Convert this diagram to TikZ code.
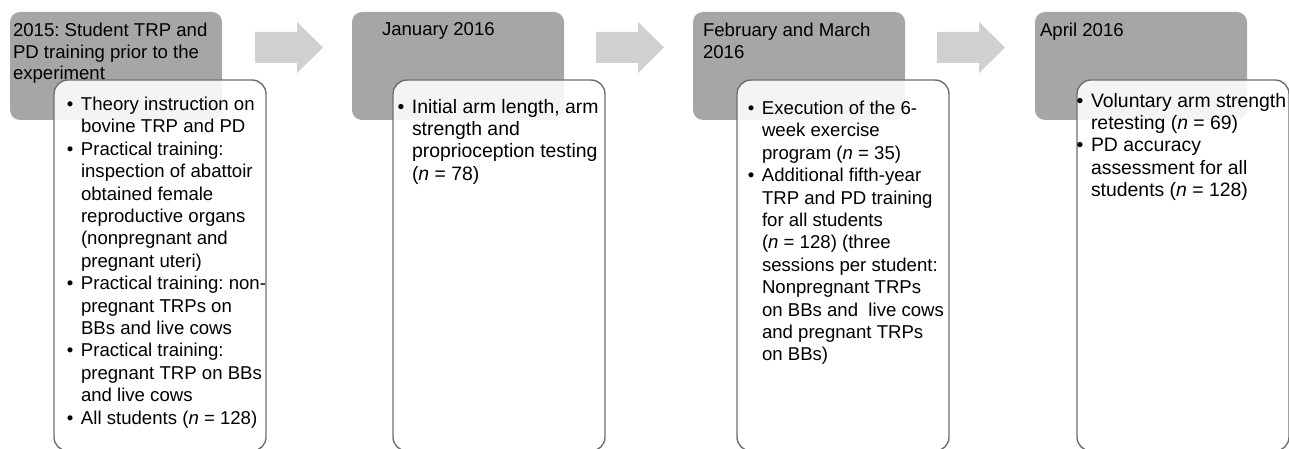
\documentclass[tikz,border=0pt]{standalone}
\usepackage{fontspec}
\setmainfont{Liberation Sans}
\usetikzlibrary{positioning}
\frenchspacing

\definecolor{headgray}{RGB}{166,166,166}
\definecolor{arrowgray}{RGB}{208,208,208}
\definecolor{boxline}{RGB}{110,110,110}
\newcommand{\itemdot}{\llap{\textbullet\hspace{3.8pt}}}

\begin{document}
\begin{tikzpicture}[x=0.5pt, y=-0.5pt,
    every node/.style={inner sep=0pt, outer sep=0pt, font=\fontsize{9.7}{11.2}\selectfont},
    headbox/.style={rectangle, rounded corners=5pt, fill=headgray, minimum width=106pt, minimum height=54pt, anchor=north west},
    listbox/.style={rectangle, rounded corners=7pt, draw=boxline, line width=0.7pt, fill=white, fill opacity=0.88, minimum width=106pt, minimum height=185.5pt, anchor=north west},
    txt/.style={anchor=north west, align=left},
    headtxt/.style={txt, font=\fontsize{9.3}{10.8}\selectfont},
    smalltxt/.style={txt, font=\fontsize{9.3}{11.2}\selectfont},
    steparrow/.style={fill=arrowgray}]
\useasboundingbox (0,0) rectangle (1289,449);

% stage headers
\node [headbox] (h1) at (10,12) {};
\node [headbox] (h2) at (352,12) {};
\node [headbox] (h3) at (693,12) {};
\node [headbox] (h4) at (1035,12) {};

% arrows between the stages
\foreach \x in {255,596,937}
  \fill [steparrow] (\x,32) -- ++(42,0) -- ++(0,-10) -- ++(26,25.5) -- ++(-26,25.5) -- ++(0,-10) -- ++(-42,0) -- cycle;

% detail boxes
\node [listbox] (b1) at ([shift={(44,68)}]h1.north west) {};
\node [listbox] (b2) at ([shift={(41,68)}]h2.north west) {};
\node [listbox] (b3) at ([shift={(44,68)}]h3.north west) {};
\node [listbox] (b4) at ([shift={(42,68)}]h4.north west) {};

% header texts
\node [headtxt] (ht1) at ([shift={(3,11)}]h1.north west) {2015: Student TRP and\\PD training prior to the\\experiment};
\node [headtxt] (ht2) at ([shift={(30,11)}]h2.north west) {January 2016};
\node [headtxt] (ht3) at ([shift={(10,11)}]h3.north west) {February and March\\2016};
\node [headtxt] (ht4) at ([shift={(5,11)}]h4.north west) {April 2016};

% detail texts
\node [smalltxt] (lt1) at ([shift={(27,17)}]b1.north west) {\itemdot Theory instruction on\\bovine TRP and PD\\
\itemdot Practical training:\\inspection of abattoir\\obtained female\\reproductive organs\\(nonpregnant and\\pregnant uteri)\\
\itemdot Practical training: non-\\pregnant TRPs on\\BBs and live cows\\
\itemdot Practical training:\\pregnant TRP on BBs\\and live cows\\
\itemdot All students (\textit{n} = 128)};
\node [txt] (lt2) at ([shift={(19,19)}]b2.north west) {\itemdot Initial arm length, arm\\strength and\\proprioception testing\\(\textit{n} = 78)};
\node [smalltxt] (lt3) at ([shift={(25,21)}]b3.north west) {\itemdot Execution of the 6-\\week exercise\\program (\textit{n} = 35)\\
\itemdot Additional fifth-year\\TRP and PD training\\for all students\\(\textit{n} = 128) (three\\sessions per student:\\Nonpregnant TRPs\\on BBs and\ \ live cows\\and pregnant TRPs\\on BBs)};
\node [txt] (lt4) at ([shift={(14,13)}]b4.north west) {\itemdot Voluntary arm strength\\retesting (\textit{n} = 69)\\
\itemdot PD accuracy\\assessment for all\\students (\textit{n} = 128)};
\end{tikzpicture}
\end{document}
